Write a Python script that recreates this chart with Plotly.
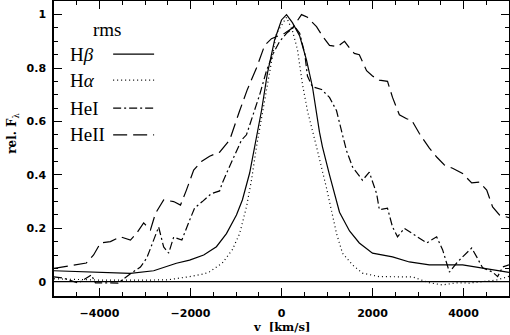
import plotly.graph_objects as go

# rms profiles
v_hb = [-5000, -4000, -3320, -2810, -2440, -2310, -2020, -1710, -1430, -1210, -990, -860, -700, -590,
        -440, -310, -150, 0, 110, 240, 400, 550, 680, 835, 900, 1055, 1275, 1495, 1710, 2000, 2440,
        2810, 3250, 3980, 4350, 4860, 5000]
f_hb = [0.041, 0.034, 0.031, 0.041, 0.062, 0.069, 0.081, 0.10, 0.131, 0.18, 0.25, 0.306, 0.407, 0.50,
        0.64, 0.78, 0.906, 0.98, 1.0, 0.97, 0.92, 0.83, 0.73, 0.56, 0.505, 0.40, 0.26, 0.19, 0.145, 0.107, 0.093,
        0.074, 0.063, 0.063, 0.052, 0.037, 0.035]

v_ha = [-5000, -4500, -4000, -3000, -2500, -2020, -1710, -1580, -1300, -1080, -920, -770, -660, -550,
        -370, -260, -110, 110, 240, 350, 460, 570, 680, 770, 990, 1055, 1210, 1340, 1560, 1780, 2150,
        2880, 3250, 3540, 3850, 4130, 4720, 5000]
f_ha = [0.011, 0.008, 0.006, 0.006, 0.007, 0.019, 0.029, 0.037, 0.07, 0.12, 0.18, 0.28, 0.38, 0.505,
        0.68, 0.80, 0.93, 0.99, 0.94, 0.87, 0.74, 0.64, 0.56, 0.505, 0.35, 0.30, 0.18, 0.107, 0.063, 0.032, 0.019,
        0.018, -0.004, -0.012, -0.004, -0.005, 0.006, 0.02]

v_he1 = [-5000, -4800, -4470, -4180, -4090, -3590, -3320, -3100, -2960, -2810, -2700, -2590, -2480,
         -2370, -2190, -2020, -1910, -1740, -1540, -1360, -1300, -1080, -880, -770, -620, -480, -330,
         -180, -40, 110, 290, 400, 510, 570, 680, 880, 1055, 1210, 1340, 1430, 1560, 1780, 1930, 2090,
         2150, 2330, 2440, 2550, 2700, 2970, 3190, 3410, 3540, 3690, 3850, 3980, 4180, 4290, 4420,
         4640, 4750, 4860, 5000]
f_he1 = [0.018, 0.014, -0.005, 0.025, -0.004, -0.005, 0.03, 0.055, 0.089, 0.156, 0.205, 0.13, 0.107,
         0.167, 0.156, 0.23, 0.276, 0.30, 0.33, 0.34, 0.37, 0.455, 0.53, 0.55, 0.63, 0.70, 0.79,
         0.855, 0.90, 0.93, 0.955, 0.93, 0.855, 0.77, 0.73, 0.72, 0.69, 0.64, 0.55, 0.49, 0.43, 0.38, 0.41, 0.33,
         0.27, 0.275, 0.205, 0.168, 0.20, 0.168, 0.145, 0.168, 0.12, 0.036, 0.07, 0.093, 0.126, 0.093, 0.052,
         0.036, 0.019, 0.055, 0.063]

v_he2 = [-5000, -4620, -4290, -4130, -3980, -3760, -3540, -3320, -3190, -3030, -2880, -2770, -2590,
         -2370, -2220, -2090, -1930, -1760, -1580, -1360, -1140, -920, -750, -550, -370, -220, -90, 70,
         240, 440, 570, 770, 900, 1055, 1230, 1385, 1495, 1600, 1710, 1870, 2000, 2150, 2330, 2440, 2590,
         2750, 2860, 3030, 3250, 3410, 3580, 3760, 3980, 4180, 4350, 4510, 4640, 4790, 5000]
f_he2 = [0.05, 0.06, 0.07, 0.10, 0.145, 0.15, 0.168, 0.156, 0.18, 0.22, 0.194, 0.256, 0.306,
         0.30, 0.287, 0.343, 0.418, 0.45, 0.47, 0.485, 0.53, 0.64, 0.72, 0.80, 0.885, 0.91, 0.92, 0.93,
         0.95, 1.0, 0.99, 0.955, 0.92, 0.885, 0.88, 0.90, 0.875, 0.855, 0.85, 0.79, 0.77, 0.755, 0.75, 0.69, 0.625,
         0.61, 0.605, 0.555, 0.50, 0.467, 0.437, 0.425, 0.405, 0.37, 0.373, 0.343, 0.28, 0.25, 0.24]

names = ["H<i>β</i>", "H<i>α</i>", "HeI", "HeII"]
dashes = ["solid", "1px,3px", "8px,3px,2px,3px", "14px,6px"]
series = [(v_hb, f_hb), (v_ha, f_ha), (v_he1, f_he1), (v_he2, f_he2)]

fig = go.Figure()
for (vx, fy), nm, ds in zip(series, names, dashes):
    fig.add_trace(go.Scatter(x=vx, y=fy, mode="lines", name=nm,
                             line=dict(color="black", width=1.2, dash=ds)))

fig.add_hline(y=0, line=dict(color="black", width=1.2))

# hand-made legend: label on the left, line sample on the right
serif = "Liberation Serif"
fig.add_annotation(x=0.1165, y=0.905, xref="paper", yref="paper", text="rms", showarrow=False,
                   xanchor="center", yanchor="middle", font=dict(family=serif, size=19, color="black"))
row_y = [0.820, 0.732, 0.637, 0.546]
for ry, nm, ds in zip(row_y, names, dashes):
    fig.add_annotation(x=0.031, y=ry, xref="paper", yref="paper", text=nm, showarrow=False,
                       xanchor="left", yanchor="middle", font=dict(family=serif, size=19, color="black"))
    fig.add_shape(type="line", xref="paper", yref="paper", x0=0.13, x1=0.22, y0=ry, y1=ry,
                  line=dict(color="black", width=1.2, dash=ds))

fig.add_annotation(x=0.5, y=-0.1322, xref="paper", yref="paper", showarrow=False,
                   xanchor="center", yanchor="bottom", borderpad=0,
                   text="<b>v  [km/s]</b>", font=dict(family="DejaVu Serif", size=11.5, color="black"))
fig.add_annotation(x=-0.09, y=0.55, xref="paper", yref="paper", showarrow=False, textangle=-90,
                   xanchor="center", yanchor="middle",
                   text="<b>rel. F</b><sub>λ</sub>", font=dict(family="DejaVu Serif", size=12, color="black"))

axis_common = dict(showline=True, linecolor="black", linewidth=1.5, mirror="allticks",
                   ticks="inside", ticklen=8, tickwidth=1.2, tickcolor="black",
                   showgrid=False, zeroline=False, automargin=False,
                   tickfont=dict(family="DejaVu Sans", size=11, color="black", weight="bold"))
fig.update_xaxes(range=[-5000, 5000], tick0=0, dtick=2000, ticklabelstandoff=6,
                 minor=dict(dtick=500, ticks="inside", ticklen=4, tickcolor="black", tickwidth=1.2),
                 **axis_common)
fig.update_yaxes(range=[-0.0535, 1.051], tick0=0, dtick=0.2, ticklabelstandoff=4,
                 minor=dict(dtick=0.05, ticks="inside", ticklen=4, tickcolor="black", tickwidth=1.2),
                 **axis_common)

fig.update_layout(width=510, height=335, margin=dict(l=54, r=1, t=1, b=39),
                  paper_bgcolor="white", plot_bgcolor="white", showlegend=False)

# the page body has a default 8px margin; drop it so the figure fills the window
fig.write_html("out.html", config={"displayModeBar": False},
               post_script="document.body.style.margin='0';")
